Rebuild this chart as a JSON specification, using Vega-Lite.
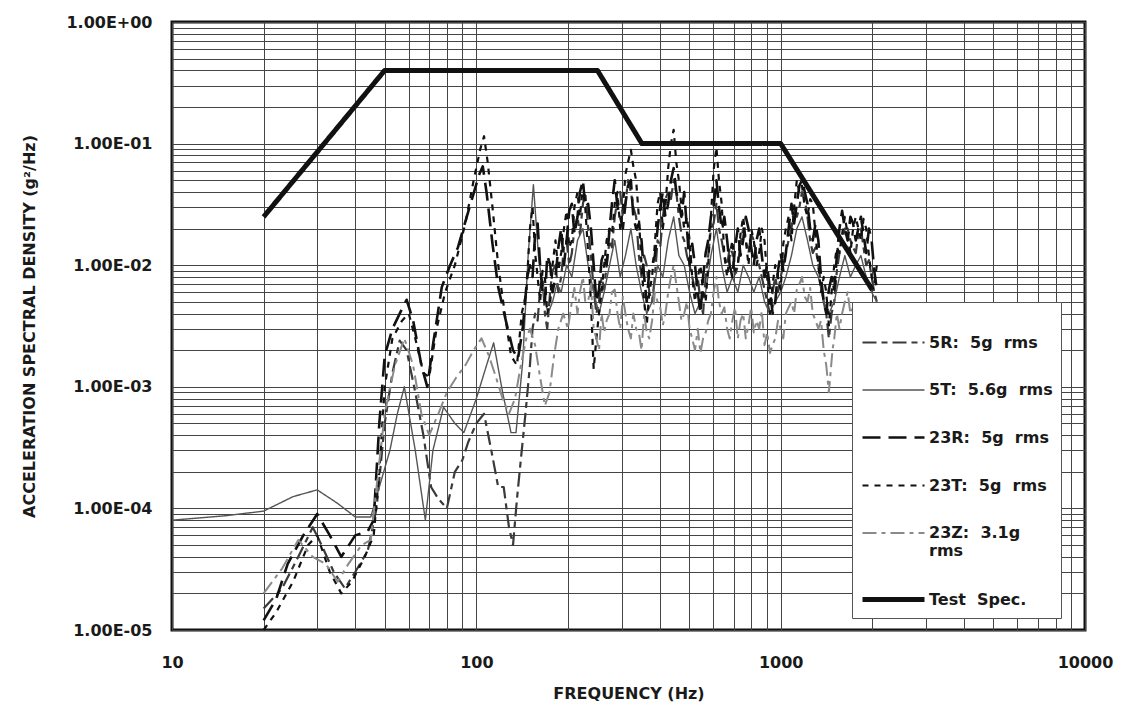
{
  "$schema": "https://vega.github.io/schema/vega-lite/v6.json",
  "autosize": {"type": "none"},
  "padding": {"left": 172, "top": 22, "right": 43, "bottom": 80},
  "width": 913,
  "height": 608,
  "background": "#ffffff",
  "config": {
    "view": {"stroke": "#111111", "strokeWidth": 3},
    "font": "DejaVu Sans"
  },
  "data": {
    "values": [
      {"s":"5R","f":20,"v":1.5e-5},{"s":"5R","f":23,"v":2.2e-5},{"s":"5R","f":26,"v":4e-5},{"s":"5R","f":29,"v":7e-5},{"s":"5R","f":31,"v":5e-5},{"s":"5R","f":34,"v":3e-5},{"s":"5R","f":37,"v":2.2e-5},{"s":"5R","f":40,"v":3e-5},{"s":"5R","f":44,"v":4.5e-5},{"s":"5R","f":47,"v":1e-4},{"s":"5R","f":50,"v":5e-4},{"s":"5R","f":53,"v":1.3e-3},{"s":"5R","f":56,"v":2.4e-3},{"s":"5R","f":59,"v":2e-3},{"s":"5R","f":63,"v":9e-4},{"s":"5R","f":67,"v":4e-4},{"s":"5R","f":71,"v":1.5e-4},{"s":"5R","f":75,"v":1.2e-4},{"s":"5R","f":80,"v":1e-4},{"s":"5R","f":85,"v":2e-4},{"s":"5R","f":90,"v":2.5e-4},{"s":"5R","f":94,"v":3.5e-4},{"s":"5R","f":100,"v":5e-4},{"s":"5R","f":106,"v":6e-4},{"s":"5R","f":112,"v":3e-4},{"s":"5R","f":118,"v":1.5e-4},{"s":"5R","f":123,"v":1.5e-4},{"s":"5R","f":128,"v":7e-5},{"s":"5R","f":132,"v":5e-5},{"s":"5R","f":136,"v":1.2e-4},{"s":"5R","f":140,"v":2.5e-4},{"s":"5R","f":145,"v":6e-4},{"s":"5R","f":150,"v":1.5e-3},{"s":"5R","f":156,"v":4e-3},{"s":"5R","f":162,"v":6.3e-3},{"s":"5R","f":168,"v":4e-3},{"s":"5R","f":175,"v":6.3e-3},{"s":"5R","f":182,"v":1e-2},{"s":"5R","f":190,"v":8e-3},{"s":"5R","f":198,"v":1.6e-2},{"s":"5R","f":206,"v":1.26e-2},{"s":"5R","f":215,"v":2.5e-2},{"s":"5R","f":224,"v":3.2e-2},{"s":"5R","f":233,"v":2e-2},{"s":"5R","f":243,"v":6.3e-3},{"s":"5R","f":253,"v":5e-3},{"s":"5R","f":263,"v":6.3e-3},{"s":"5R","f":274,"v":1.6e-2},{"s":"5R","f":285,"v":2.5e-2},{"s":"5R","f":297,"v":4e-2},{"s":"5R","f":309,"v":3.2e-2},{"s":"5R","f":322,"v":4e-2},{"s":"5R","f":335,"v":2.5e-2},{"s":"5R","f":349,"v":8e-3},{"s":"5R","f":363,"v":1e-2},{"s":"5R","f":378,"v":5e-3},{"s":"5R","f":394,"v":1.6e-2},{"s":"5R","f":410,"v":2.5e-2},{"s":"5R","f":427,"v":4e-2},{"s":"5R","f":445,"v":5e-2},{"s":"5R","f":463,"v":2.5e-2},{"s":"5R","f":482,"v":1.6e-2},{"s":"5R","f":502,"v":1e-2},{"s":"5R","f":523,"v":6.3e-3},{"s":"5R","f":545,"v":5e-3},{"s":"5R","f":567,"v":8e-3},{"s":"5R","f":590,"v":2e-2},{"s":"5R","f":615,"v":3.2e-2},{"s":"5R","f":640,"v":1.6e-2},{"s":"5R","f":667,"v":1e-2},{"s":"5R","f":694,"v":1.26e-2},{"s":"5R","f":723,"v":1e-2},{"s":"5R","f":753,"v":2e-2},{"s":"5R","f":784,"v":1.26e-2},{"s":"5R","f":816,"v":1.6e-2},{"s":"5R","f":850,"v":1e-2},{"s":"5R","f":885,"v":6.3e-3},{"s":"5R","f":922,"v":4e-3},{"s":"5R","f":960,"v":8e-3},{"s":"5R","f":1000,"v":8e-3},{"s":"5R","f":1040,"v":1.26e-2},{"s":"5R","f":1085,"v":2e-2},{"s":"5R","f":1130,"v":2.5e-2},{"s":"5R","f":1175,"v":4e-2},{"s":"5R","f":1225,"v":2.5e-2},{"s":"5R","f":1275,"v":1.26e-2},{"s":"5R","f":1330,"v":1e-2},{"s":"5R","f":1385,"v":5e-3},{"s":"5R","f":1440,"v":2.5e-3},{"s":"5R","f":1500,"v":5e-3},{"s":"5R","f":1560,"v":1.26e-2},{"s":"5R","f":1625,"v":2e-2},{"s":"5R","f":1695,"v":1.6e-2},{"s":"5R","f":1765,"v":1.26e-2},{"s":"5R","f":1835,"v":2e-2},{"s":"5R","f":1910,"v":1e-2},{"s":"5R","f":1990,"v":8e-3},{"s":"5R","f":2070,"v":5e-3},
      {"s":"5R","f":153,"v":3e-3},{"s":"5R","f":159,"v":3.5e-3},{"s":"5R","f":165,"v":8e-3},{"s":"5R","f":171,"v":3e-3},{"s":"5R","f":178,"v":9e-3},{"s":"5R","f":186,"v":6e-3},{"s":"5R","f":194,"v":1.4e-2},{"s":"5R","f":202,"v":1e-2},{"s":"5R","f":210,"v":2e-2},{"s":"5R","f":219,"v":1.8e-2},{"s":"5R","f":228,"v":4e-2},{"s":"5R","f":238,"v":1.2e-2},{"s":"5R","f":248,"v":4e-3},{"s":"5R","f":258,"v":8e-3},{"s":"5R","f":268,"v":1e-2},{"s":"5R","f":279,"v":1.4e-2},{"s":"5R","f":291,"v":3.5e-2},{"s":"5R","f":303,"v":2.5e-2},{"s":"5R","f":315,"v":5e-2},{"s":"5R","f":328,"v":3e-2},{"s":"5R","f":342,"v":1.2e-2},{"s":"5R","f":356,"v":1.2e-2},{"s":"5R","f":370,"v":6e-3},{"s":"5R","f":386,"v":8e-3},{"s":"5R","f":402,"v":1.4e-2},{"s":"5R","f":418,"v":3.5e-2},{"s":"5R","f":436,"v":3.5e-2},{"s":"5R","f":454,"v":4e-2},{"s":"5R","f":472,"v":1.8e-2},{"s":"5R","f":492,"v":1.2e-2},{"s":"5R","f":512,"v":8e-3},{"s":"5R","f":534,"v":8e-3},{"s":"5R","f":556,"v":4e-3},{"s":"5R","f":578,"v":1.2e-2},{"s":"5R","f":602,"v":2.2e-2},{"s":"5R","f":627,"v":2e-2},{"s":"5R","f":653,"v":1.2e-2},{"s":"5R","f":680,"v":1.4e-2},{"s":"5R","f":708,"v":8e-3},{"s":"5R","f":738,"v":1.5e-2},{"s":"5R","f":768,"v":1.6e-2},{"s":"5R","f":800,"v":1.8e-2},{"s":"5R","f":833,"v":1.2e-2},{"s":"5R","f":867,"v":8e-3},{"s":"5R","f":903,"v":5e-3},{"s":"5R","f":941,"v":6e-3},{"s":"5R","f":980,"v":6e-3},{"s":"5R","f":1020,"v":1e-2},{"s":"5R","f":1062,"v":1.6e-2},{"s":"5R","f":1107,"v":3e-2},{"s":"5R","f":1152,"v":3e-2},{"s":"5R","f":1200,"v":3.5e-2},{"s":"5R","f":1250,"v":1.6e-2},{"s":"5R","f":1302,"v":1.4e-2},{"s":"5R","f":1357,"v":7e-3},{"s":"5R","f":1412,"v":4e-3},{"s":"5R","f":1470,"v":4e-3},{"s":"5R","f":1530,"v":9e-3},{"s":"5R","f":1592,"v":1.6e-2},{"s":"5R","f":1660,"v":2e-2},{"s":"5R","f":1730,"v":1.4e-2},{"s":"5R","f":1800,"v":1.8e-2},{"s":"5R","f":1872,"v":1.4e-2},{"s":"5R","f":1950,"v":1.1e-2},{"s":"5R","f":2030,"v":6e-3},

      {"s":"5T","f":10,"v":8e-5},{"s":"5T","f":15,"v":8.7e-5},{"s":"5T","f":20,"v":9.5e-5},{"s":"5T","f":25,"v":1.25e-4},{"s":"5T","f":30,"v":1.42e-4},{"s":"5T","f":35,"v":1.1e-4},{"s":"5T","f":40,"v":8.5e-5},{"s":"5T","f":45,"v":8.5e-5},{"s":"5T","f":48,"v":1.5e-4},{"s":"5T","f":52,"v":3e-4},{"s":"5T","f":55,"v":6e-4},{"s":"5T","f":58,"v":1e-3},{"s":"5T","f":63,"v":3e-4},{"s":"5T","f":68,"v":8e-5},{"s":"5T","f":72,"v":3e-4},{"s":"5T","f":78,"v":6.8e-4},{"s":"5T","f":85,"v":5e-4},{"s":"5T","f":91,"v":4.2e-4},{"s":"5T","f":100,"v":8e-4},{"s":"5T","f":108,"v":1.5e-3},{"s":"5T","f":114,"v":2.3e-3},{"s":"5T","f":122,"v":9e-4},{"s":"5T","f":130,"v":4.2e-4},{"s":"5T","f":135,"v":4.2e-4},{"s":"5T","f":142,"v":1.6e-3},{"s":"5T","f":148,"v":1.2e-2},{"s":"5T","f":154,"v":4.6e-2},{"s":"5T","f":160,"v":1.2e-2},{"s":"5T","f":166,"v":6e-3},{"s":"5T","f":172,"v":4e-3},{"s":"5T","f":178,"v":5e-3},{"s":"5T","f":184,"v":7e-3},{"s":"5T","f":190,"v":6e-3},{"s":"5T","f":198,"v":1e-2},{"s":"5T","f":206,"v":8e-3},{"s":"5T","f":215,"v":1.6e-2},{"s":"5T","f":224,"v":2e-2},{"s":"5T","f":233,"v":1e-2},{"s":"5T","f":243,"v":6e-3},{"s":"5T","f":253,"v":4e-3},{"s":"5T","f":263,"v":6e-3},{"s":"5T","f":274,"v":1e-2},{"s":"5T","f":285,"v":1.6e-2},{"s":"5T","f":297,"v":8e-3},{"s":"5T","f":309,"v":1.2e-2},{"s":"5T","f":322,"v":2e-2},{"s":"5T","f":335,"v":1e-2},{"s":"5T","f":349,"v":6e-3},{"s":"5T","f":363,"v":4e-3},{"s":"5T","f":378,"v":5e-3},{"s":"5T","f":394,"v":1e-2},{"s":"5T","f":410,"v":8e-3},{"s":"5T","f":427,"v":1.6e-2},{"s":"5T","f":445,"v":2.5e-2},{"s":"5T","f":463,"v":1.2e-2},{"s":"5T","f":482,"v":1e-2},{"s":"5T","f":502,"v":6e-3},{"s":"5T","f":523,"v":4e-3},{"s":"5T","f":545,"v":5e-3},{"s":"5T","f":567,"v":6e-3},{"s":"5T","f":590,"v":1.2e-2},{"s":"5T","f":615,"v":2e-2},{"s":"5T","f":640,"v":1e-2},{"s":"5T","f":667,"v":6e-3},{"s":"5T","f":694,"v":8e-3},{"s":"5T","f":723,"v":6e-3},{"s":"5T","f":753,"v":1e-2},{"s":"5T","f":784,"v":8e-3},{"s":"5T","f":816,"v":6e-3},{"s":"5T","f":850,"v":8e-3},{"s":"5T","f":885,"v":5e-3},{"s":"5T","f":922,"v":4e-3},{"s":"5T","f":960,"v":5e-3},{"s":"5T","f":1000,"v":6e-3},{"s":"5T","f":1040,"v":8e-3},{"s":"5T","f":1085,"v":1.2e-2},{"s":"5T","f":1130,"v":2e-2},{"s":"5T","f":1175,"v":2.5e-2},{"s":"5T","f":1225,"v":1.6e-2},{"s":"5T","f":1275,"v":1e-2},{"s":"5T","f":1330,"v":8e-3},{"s":"5T","f":1385,"v":5e-3},{"s":"5T","f":1440,"v":4e-3},{"s":"5T","f":1500,"v":5e-3},{"s":"5T","f":1560,"v":8e-3},{"s":"5T","f":1625,"v":1.2e-2},{"s":"5T","f":1695,"v":8e-3},{"s":"5T","f":1765,"v":1e-2},{"s":"5T","f":1835,"v":1.2e-2},{"s":"5T","f":1910,"v":8e-3},{"s":"5T","f":1990,"v":6e-3},{"s":"5T","f":2070,"v":5e-3},

      {"s":"23R","f":20,"v":1.2e-5},{"s":"23R","f":22,"v":1.8e-5},{"s":"23R","f":24,"v":3.5e-5},{"s":"23R","f":27,"v":6e-5},{"s":"23R","f":30,"v":9e-5},{"s":"23R","f":33,"v":6e-5},{"s":"23R","f":36,"v":4e-5},{"s":"23R","f":40,"v":6e-5},{"s":"23R","f":44,"v":6.5e-5},{"s":"23R","f":46,"v":8e-5},{"s":"23R","f":48,"v":5e-4},{"s":"23R","f":50,"v":1.8e-3},{"s":"23R","f":53,"v":3e-3},{"s":"23R","f":56,"v":4e-3},{"s":"23R","f":59,"v":5.2e-3},{"s":"23R","f":62,"v":3.5e-3},{"s":"23R","f":66,"v":1.5e-3},{"s":"23R","f":69,"v":1e-3},{"s":"23R","f":72,"v":2.2e-3},{"s":"23R","f":77,"v":6.6e-3},{"s":"23R","f":82,"v":1e-2},{"s":"23R","f":87,"v":1.4e-2},{"s":"23R","f":93,"v":2.5e-2},{"s":"23R","f":98,"v":3.9e-2},{"s":"23R","f":102,"v":5.5e-2},{"s":"23R","f":105,"v":6.5e-2},{"s":"23R","f":108,"v":4e-2},{"s":"23R","f":113,"v":1.5e-2},{"s":"23R","f":118,"v":6.6e-3},{"s":"23R","f":125,"v":3.5e-3},{"s":"23R","f":132,"v":2e-3},{"s":"23R","f":137,"v":1.7e-3},{"s":"23R","f":142,"v":3e-3},{"s":"23R","f":147,"v":8e-3},{"s":"23R","f":150,"v":1e-2},{"s":"23R","f":156,"v":1.8e-2},{"s":"23R","f":162,"v":1e-2},{"s":"23R","f":168,"v":5e-3},{"s":"23R","f":175,"v":1e-2},{"s":"23R","f":182,"v":8e-3},{"s":"23R","f":190,"v":2e-2},{"s":"23R","f":198,"v":1.6e-2},{"s":"23R","f":206,"v":3.2e-2},{"s":"23R","f":215,"v":2.5e-2},{"s":"23R","f":224,"v":5e-2},{"s":"23R","f":233,"v":3.2e-2},{"s":"23R","f":243,"v":1e-2},{"s":"23R","f":253,"v":6.3e-3},{"s":"23R","f":263,"v":1.26e-2},{"s":"23R","f":274,"v":2e-2},{"s":"23R","f":285,"v":5e-2},{"s":"23R","f":297,"v":2.5e-2},{"s":"23R","f":309,"v":3.2e-2},{"s":"23R","f":322,"v":5e-2},{"s":"23R","f":335,"v":2e-2},{"s":"23R","f":349,"v":1.6e-2},{"s":"23R","f":363,"v":5e-3},{"s":"23R","f":378,"v":1e-2},{"s":"23R","f":394,"v":2e-2},{"s":"23R","f":410,"v":4e-2},{"s":"23R","f":427,"v":3.2e-2},{"s":"23R","f":445,"v":6.3e-2},{"s":"23R","f":463,"v":3.2e-2},{"s":"23R","f":482,"v":4e-2},{"s":"23R","f":502,"v":1e-2},{"s":"23R","f":523,"v":1e-2},{"s":"23R","f":545,"v":4e-3},{"s":"23R","f":567,"v":1.26e-2},{"s":"23R","f":590,"v":2.5e-2},{"s":"23R","f":615,"v":5e-2},{"s":"23R","f":640,"v":2e-2},{"s":"23R","f":667,"v":1.6e-2},{"s":"23R","f":694,"v":8e-3},{"s":"23R","f":723,"v":2e-2},{"s":"23R","f":753,"v":1.6e-2},{"s":"23R","f":784,"v":2e-2},{"s":"23R","f":816,"v":1e-2},{"s":"23R","f":850,"v":2e-2},{"s":"23R","f":885,"v":8e-3},{"s":"23R","f":922,"v":6.3e-3},{"s":"23R","f":960,"v":5e-3},{"s":"23R","f":1000,"v":1.26e-2},{"s":"23R","f":1040,"v":1.26e-2},{"s":"23R","f":1085,"v":3.2e-2},{"s":"23R","f":1130,"v":3.2e-2},{"s":"23R","f":1175,"v":5e-2},{"s":"23R","f":1225,"v":3.2e-2},{"s":"23R","f":1275,"v":1.6e-2},{"s":"23R","f":1330,"v":1.6e-2},{"s":"23R","f":1385,"v":5e-3},{"s":"23R","f":1440,"v":6.3e-3},{"s":"23R","f":1500,"v":6.3e-3},{"s":"23R","f":1560,"v":2e-2},{"s":"23R","f":1625,"v":2e-2},{"s":"23R","f":1695,"v":2.5e-2},{"s":"23R","f":1765,"v":1.6e-2},{"s":"23R","f":1835,"v":2.5e-2},{"s":"23R","f":1910,"v":1.26e-2},{"s":"23R","f":1990,"v":1.6e-2},{"s":"23R","f":2070,"v":6.3e-3},
      {"s":"23R","f":153,"v":8e-3},{"s":"23R","f":159,"v":2.2e-2},{"s":"23R","f":165,"v":6e-3},{"s":"23R","f":171,"v":1.2e-2},{"s":"23R","f":178,"v":6e-3},{"s":"23R","f":186,"v":1.4e-2},{"s":"23R","f":194,"v":1e-2},{"s":"23R","f":202,"v":2.8e-2},{"s":"23R","f":210,"v":1.8e-2},{"s":"23R","f":219,"v":4e-2},{"s":"23R","f":228,"v":3e-2},{"s":"23R","f":238,"v":2e-2},{"s":"23R","f":248,"v":5e-3},{"s":"23R","f":258,"v":1.1e-2},{"s":"23R","f":268,"v":1e-2},{"s":"23R","f":279,"v":3.2e-2},{"s":"23R","f":291,"v":3e-2},{"s":"23R","f":303,"v":2e-2},{"s":"23R","f":315,"v":4.5e-2},{"s":"23R","f":328,"v":2.5e-2},{"s":"23R","f":342,"v":2.2e-2},{"s":"23R","f":356,"v":8e-3},{"s":"23R","f":370,"v":9e-3},{"s":"23R","f":386,"v":1.2e-2},{"s":"23R","f":402,"v":3e-2},{"s":"23R","f":418,"v":2.5e-2},{"s":"23R","f":436,"v":5e-2},{"s":"23R","f":454,"v":4e-2},{"s":"23R","f":472,"v":2.5e-2},{"s":"23R","f":492,"v":2e-2},{"s":"23R","f":512,"v":1.5e-2},{"s":"23R","f":534,"v":6e-3},{"s":"23R","f":556,"v":8e-3},{"s":"23R","f":578,"v":1.6e-2},{"s":"23R","f":602,"v":3e-2},{"s":"23R","f":627,"v":3e-2},{"s":"23R","f":653,"v":2.5e-2},{"s":"23R","f":680,"v":1e-2},{"s":"23R","f":708,"v":1.4e-2},{"s":"23R","f":738,"v":1.2e-2},{"s":"23R","f":768,"v":2.5e-2},{"s":"23R","f":800,"v":1.4e-2},{"s":"23R","f":833,"v":1.6e-2},{"s":"23R","f":867,"v":1.2e-2},{"s":"23R","f":903,"v":1e-2},{"s":"23R","f":941,"v":4e-3},{"s":"23R","f":980,"v":9e-3},{"s":"23R","f":1020,"v":9e-3},{"s":"23R","f":1062,"v":2e-2},{"s":"23R","f":1107,"v":2.2e-2},{"s":"23R","f":1152,"v":4.5e-2},{"s":"23R","f":1200,"v":4e-2},{"s":"23R","f":1250,"v":2e-2},{"s":"23R","f":1302,"v":2.2e-2},{"s":"23R","f":1357,"v":8e-3},{"s":"23R","f":1412,"v":4e-3},{"s":"23R","f":1470,"v":8e-3},{"s":"23R","f":1530,"v":1.2e-2},{"s":"23R","f":1592,"v":2.8e-2},{"s":"23R","f":1660,"v":1.6e-2},{"s":"23R","f":1730,"v":2.2e-2},{"s":"23R","f":1800,"v":2e-2},{"s":"23R","f":1872,"v":1.8e-2},{"s":"23R","f":1950,"v":2e-2},{"s":"23R","f":2030,"v":9e-3},

      {"s":"23T","f":20,"v":1e-5},{"s":"23T","f":22,"v":1.4e-5},{"s":"23T","f":25,"v":2.5e-5},{"s":"23T","f":28,"v":5e-5},{"s":"23T","f":30,"v":6e-5},{"s":"23T","f":33,"v":3e-5},{"s":"23T","f":36,"v":2e-5},{"s":"23T","f":39,"v":2.5e-5},{"s":"23T","f":43,"v":4e-5},{"s":"23T","f":46,"v":6e-5},{"s":"23T","f":48,"v":2e-4},{"s":"23T","f":50,"v":1e-3},{"s":"23T","f":53,"v":2.5e-3},{"s":"23T","f":57,"v":3.5e-3},{"s":"23T","f":60,"v":4e-3},{"s":"23T","f":63,"v":2.5e-3},{"s":"23T","f":67,"v":1.3e-3},{"s":"23T","f":70,"v":1.2e-3},{"s":"23T","f":74,"v":3e-3},{"s":"23T","f":79,"v":6e-3},{"s":"23T","f":85,"v":1e-2},{"s":"23T","f":92,"v":2.2e-2},{"s":"23T","f":98,"v":5e-2},{"s":"23T","f":103,"v":9e-2},{"s":"23T","f":106,"v":1.15e-1},{"s":"23T","f":109,"v":7e-2},{"s":"23T","f":113,"v":3e-2},{"s":"23T","f":118,"v":1e-2},{"s":"23T","f":124,"v":4e-3},{"s":"23T","f":130,"v":1.8e-3},{"s":"23T","f":136,"v":1.5e-3},{"s":"23T","f":141,"v":4e-3},{"s":"23T","f":146,"v":6e-3},{"s":"23T","f":150,"v":2e-2},{"s":"23T","f":156,"v":1.26e-2},{"s":"23T","f":162,"v":5e-3},{"s":"23T","f":168,"v":8e-3},{"s":"23T","f":175,"v":5e-3},{"s":"23T","f":182,"v":1.6e-2},{"s":"23T","f":190,"v":1.26e-2},{"s":"23T","f":198,"v":2.8e-2},{"s":"23T","f":206,"v":1.6e-2},{"s":"23T","f":215,"v":4e-2},{"s":"23T","f":224,"v":4.5e-2},{"s":"23T","f":233,"v":1.26e-2},{"s":"23T","f":243,"v":1.4e-3},{"s":"23T","f":253,"v":4e-3},{"s":"23T","f":263,"v":1e-2},{"s":"23T","f":274,"v":2e-2},{"s":"23T","f":285,"v":3.2e-2},{"s":"23T","f":297,"v":2e-2},{"s":"23T","f":309,"v":5.6e-2},{"s":"23T","f":322,"v":8.9e-2},{"s":"23T","f":335,"v":5e-2},{"s":"23T","f":349,"v":1e-2},{"s":"23T","f":363,"v":3.2e-3},{"s":"23T","f":378,"v":8e-3},{"s":"23T","f":394,"v":3.2e-2},{"s":"23T","f":410,"v":2e-2},{"s":"23T","f":427,"v":6.3e-2},{"s":"23T","f":445,"v":1.3e-1},{"s":"23T","f":463,"v":5e-2},{"s":"23T","f":482,"v":2e-2},{"s":"23T","f":502,"v":1.6e-2},{"s":"23T","f":523,"v":5e-3},{"s":"23T","f":545,"v":1e-2},{"s":"23T","f":567,"v":5e-3},{"s":"23T","f":590,"v":2.5e-2},{"s":"23T","f":615,"v":9.3e-2},{"s":"23T","f":640,"v":3.2e-2},{"s":"23T","f":667,"v":8e-3},{"s":"23T","f":694,"v":1.6e-2},{"s":"23T","f":723,"v":1e-2},{"s":"23T","f":753,"v":2.5e-2},{"s":"23T","f":784,"v":1e-2},{"s":"23T","f":816,"v":1.6e-2},{"s":"23T","f":850,"v":1.26e-2},{"s":"23T","f":885,"v":1.6e-2},{"s":"23T","f":922,"v":4e-3},{"s":"23T","f":960,"v":1e-2},{"s":"23T","f":1000,"v":6.3e-3},{"s":"23T","f":1040,"v":2e-2},{"s":"23T","f":1085,"v":1.6e-2},{"s":"23T","f":1130,"v":5e-2},{"s":"23T","f":1175,"v":4.5e-2},{"s":"23T","f":1225,"v":2.5e-2},{"s":"23T","f":1275,"v":3.2e-2},{"s":"23T","f":1330,"v":1e-2},{"s":"23T","f":1385,"v":8e-3},{"s":"23T","f":1440,"v":3.2e-3},{"s":"23T","f":1500,"v":1e-2},{"s":"23T","f":1560,"v":1.26e-2},{"s":"23T","f":1625,"v":2.5e-2},{"s":"23T","f":1695,"v":1.26e-2},{"s":"23T","f":1765,"v":2.5e-2},{"s":"23T","f":1835,"v":1.6e-2},{"s":"23T","f":1910,"v":2e-2},{"s":"23T","f":1990,"v":8e-3},{"s":"23T","f":2070,"v":1e-2},
      {"s":"23T","f":153,"v":3e-2},{"s":"23T","f":159,"v":8e-3},{"s":"23T","f":165,"v":9e-3},{"s":"23T","f":171,"v":4e-3},{"s":"23T","f":178,"v":1e-2},{"s":"23T","f":186,"v":9e-3},{"s":"23T","f":194,"v":2e-2},{"s":"23T","f":202,"v":1.4e-2},{"s":"23T","f":210,"v":3e-2},{"s":"23T","f":219,"v":2.5e-2},{"s":"23T","f":228,"v":3e-2},{"s":"23T","f":238,"v":5e-3},{"s":"23T","f":248,"v":2.5e-3},{"s":"23T","f":258,"v":6e-3},{"s":"23T","f":268,"v":1.6e-2},{"s":"23T","f":279,"v":1.8e-2},{"s":"23T","f":291,"v":4e-2},{"s":"23T","f":303,"v":3e-2},{"s":"23T","f":315,"v":7e-2},{"s":"23T","f":328,"v":6.5e-2},{"s":"23T","f":342,"v":2.5e-2},{"s":"23T","f":356,"v":5e-3},{"s":"23T","f":370,"v":6e-3},{"s":"23T","f":386,"v":1.5e-2},{"s":"23T","f":402,"v":4e-2},{"s":"23T","f":418,"v":3e-2},{"s":"23T","f":436,"v":1e-1},{"s":"23T","f":454,"v":7e-2},{"s":"23T","f":472,"v":3e-2},{"s":"23T","f":492,"v":2.5e-2},{"s":"23T","f":512,"v":8e-3},{"s":"23T","f":534,"v":8e-3},{"s":"23T","f":556,"v":6e-3},{"s":"23T","f":578,"v":1e-2},{"s":"23T","f":602,"v":6e-2},{"s":"23T","f":627,"v":5e-2},{"s":"23T","f":653,"v":1.2e-2},{"s":"23T","f":680,"v":1.2e-2},{"s":"23T","f":708,"v":9e-3},{"s":"23T","f":738,"v":1.8e-2},{"s":"23T","f":768,"v":1.6e-2},{"s":"23T","f":800,"v":2e-2},{"s":"23T","f":833,"v":1e-2},{"s":"23T","f":867,"v":2e-2},{"s":"23T","f":903,"v":8e-3},{"s":"23T","f":941,"v":7e-3},{"s":"23T","f":980,"v":8e-3},{"s":"23T","f":1020,"v":1.5e-2},{"s":"23T","f":1062,"v":2.5e-2},{"s":"23T","f":1107,"v":3e-2},{"s":"23T","f":1152,"v":4e-2},{"s":"23T","f":1200,"v":3e-2},{"s":"23T","f":1250,"v":3.5e-2},{"s":"23T","f":1302,"v":1.8e-2},{"s":"23T","f":1357,"v":6e-3},{"s":"23T","f":1412,"v":6e-3},{"s":"23T","f":1470,"v":6e-3},{"s":"23T","f":1530,"v":1.4e-2},{"s":"23T","f":1592,"v":1.8e-2},{"s":"23T","f":1660,"v":1.8e-2},{"s":"23T","f":1730,"v":2e-2},{"s":"23T","f":1800,"v":2e-2},{"s":"23T","f":1872,"v":2.4e-2},{"s":"23T","f":1950,"v":1.2e-2},{"s":"23T","f":2030,"v":7e-3},

      {"s":"23Z","f":20,"v":2e-5},{"s":"23Z","f":23,"v":3.2e-5},{"s":"23Z","f":26,"v":5.5e-5},{"s":"23Z","f":29,"v":4e-5},{"s":"23Z","f":32,"v":3.5e-5},{"s":"23Z","f":35,"v":2.5e-5},{"s":"23Z","f":38,"v":3.5e-5},{"s":"23Z","f":42,"v":5e-5},{"s":"23Z","f":45,"v":5.5e-5},{"s":"23Z","f":47,"v":1.5e-4},{"s":"23Z","f":50,"v":6e-4},{"s":"23Z","f":54,"v":1.5e-3},{"s":"23Z","f":58,"v":2.5e-3},{"s":"23Z","f":62,"v":1.5e-3},{"s":"23Z","f":66,"v":6e-4},{"s":"23Z","f":70,"v":4e-4},{"s":"23Z","f":75,"v":6e-4},{"s":"23Z","f":80,"v":9e-4},{"s":"23Z","f":86,"v":1.2e-3},{"s":"23Z","f":92,"v":1.5e-3},{"s":"23Z","f":98,"v":2e-3},{"s":"23Z","f":104,"v":2.5e-3},{"s":"23Z","f":110,"v":1.8e-3},{"s":"23Z","f":116,"v":1.2e-3},{"s":"23Z","f":122,"v":8e-4},{"s":"23Z","f":128,"v":6e-4},{"s":"23Z","f":134,"v":8e-4},{"s":"23Z","f":140,"v":1.5e-3},{"s":"23Z","f":146,"v":2.5e-3},{"s":"23Z","f":150,"v":3e-3},{"s":"23Z","f":156,"v":2.2e-3},{"s":"23Z","f":162,"v":1.2e-3},{"s":"23Z","f":168,"v":7e-4},{"s":"23Z","f":174,"v":9e-4},{"s":"23Z","f":180,"v":1.8e-3},{"s":"23Z","f":186,"v":3e-3},{"s":"23Z","f":193,"v":4e-3},{"s":"23Z","f":200,"v":3e-3},{"s":"23Z","f":206,"v":5e-3},{"s":"23Z","f":215,"v":4e-3},{"s":"23Z","f":224,"v":8e-3},{"s":"23Z","f":233,"v":5e-3},{"s":"23Z","f":243,"v":3e-3},{"s":"23Z","f":253,"v":2e-3},{"s":"23Z","f":263,"v":2.8e-3},{"s":"23Z","f":274,"v":4e-3},{"s":"23Z","f":285,"v":6.3e-3},{"s":"23Z","f":297,"v":3e-3},{"s":"23Z","f":309,"v":4e-3},{"s":"23Z","f":322,"v":2.5e-3},{"s":"23Z","f":335,"v":3e-3},{"s":"23Z","f":349,"v":2e-3},{"s":"23Z","f":363,"v":2.8e-3},{"s":"23Z","f":378,"v":3.5e-3},{"s":"23Z","f":394,"v":5e-3},{"s":"23Z","f":410,"v":3.2e-3},{"s":"23Z","f":427,"v":6e-3},{"s":"23Z","f":445,"v":1e-2},{"s":"23Z","f":463,"v":5e-3},{"s":"23Z","f":482,"v":4e-3},{"s":"23Z","f":502,"v":3e-3},{"s":"23Z","f":523,"v":2e-3},{"s":"23Z","f":545,"v":1.9e-3},{"s":"23Z","f":567,"v":2.8e-3},{"s":"23Z","f":590,"v":4e-3},{"s":"23Z","f":615,"v":8e-3},{"s":"23Z","f":640,"v":4e-3},{"s":"23Z","f":667,"v":3e-3},{"s":"23Z","f":694,"v":3.5e-3},{"s":"23Z","f":723,"v":2.5e-3},{"s":"23Z","f":753,"v":4e-3},{"s":"23Z","f":784,"v":3.2e-3},{"s":"23Z","f":816,"v":2.8e-3},{"s":"23Z","f":850,"v":3e-3},{"s":"23Z","f":885,"v":2.2e-3},{"s":"23Z","f":922,"v":1.9e-3},{"s":"23Z","f":960,"v":2.5e-3},{"s":"23Z","f":1000,"v":3e-3},{"s":"23Z","f":1040,"v":4e-3},{"s":"23Z","f":1085,"v":5e-3},{"s":"23Z","f":1130,"v":6.3e-3},{"s":"23Z","f":1175,"v":8e-3},{"s":"23Z","f":1225,"v":5e-3},{"s":"23Z","f":1275,"v":4e-3},{"s":"23Z","f":1330,"v":3e-3},{"s":"23Z","f":1385,"v":2e-3},{"s":"23Z","f":1440,"v":9e-4},{"s":"23Z","f":1480,"v":2e-3},{"s":"23Z","f":1500,"v":2.5e-3},{"s":"23Z","f":1560,"v":3e-3},{"s":"23Z","f":1625,"v":5e-3},{"s":"23Z","f":1695,"v":4e-3},{"s":"23Z","f":1765,"v":3.5e-3},{"s":"23Z","f":1835,"v":3e-3},{"s":"23Z","f":1910,"v":3.2e-3},{"s":"23Z","f":1990,"v":3e-3},{"s":"23Z","f":2070,"v":3.5e-3},
      {"s":"23Z","f":210,"v":6.5e-3},{"s":"23Z","f":219,"v":6e-3},{"s":"23Z","f":228,"v":5e-3},{"s":"23Z","f":238,"v":7e-3},{"s":"23Z","f":248,"v":2.5e-3},{"s":"23Z","f":258,"v":4e-3},{"s":"23Z","f":268,"v":3.5e-3},{"s":"23Z","f":279,"v":6e-3},{"s":"23Z","f":291,"v":4e-3},{"s":"23Z","f":303,"v":5.5e-3},{"s":"23Z","f":315,"v":3e-3},{"s":"23Z","f":328,"v":4e-3},{"s":"23Z","f":342,"v":2.8e-3},{"s":"23Z","f":356,"v":4e-3},{"s":"23Z","f":370,"v":2.5e-3},{"s":"23Z","f":386,"v":6e-3},{"s":"23Z","f":402,"v":4.5e-3},{"s":"23Z","f":418,"v":4e-3},{"s":"23Z","f":436,"v":8e-3},{"s":"23Z","f":454,"v":7e-3},{"s":"23Z","f":472,"v":3.5e-3},{"s":"23Z","f":492,"v":5e-3},{"s":"23Z","f":512,"v":2.5e-3},{"s":"23Z","f":534,"v":3e-3},{"s":"23Z","f":556,"v":2.5e-3},{"s":"23Z","f":578,"v":3.5e-3},{"s":"23Z","f":602,"v":6e-3},{"s":"23Z","f":627,"v":5e-3},{"s":"23Z","f":653,"v":4.5e-3},{"s":"23Z","f":680,"v":2.5e-3},{"s":"23Z","f":708,"v":4.5e-3},{"s":"23Z","f":738,"v":3.5e-3},{"s":"23Z","f":768,"v":2.5e-3},{"s":"23Z","f":800,"v":4.5e-3},{"s":"23Z","f":833,"v":3.5e-3},{"s":"23Z","f":867,"v":4.2e-3},{"s":"23Z","f":903,"v":2.8e-3},{"s":"23Z","f":941,"v":2.2e-3},{"s":"23Z","f":980,"v":3.5e-3},{"s":"23Z","f":1020,"v":2.5e-3},{"s":"23Z","f":1062,"v":4.5e-3},{"s":"23Z","f":1107,"v":4e-3},{"s":"23Z","f":1152,"v":7e-3},{"s":"23Z","f":1200,"v":5.5e-3},{"s":"23Z","f":1250,"v":6.5e-3},{"s":"23Z","f":1302,"v":3.5e-3},{"s":"23Z","f":1357,"v":3.5e-3},{"s":"23Z","f":1412,"v":1.5e-3},{"s":"23Z","f":1530,"v":4e-3},{"s":"23Z","f":1592,"v":4e-3},{"s":"23Z","f":1660,"v":6e-3},{"s":"23Z","f":1730,"v":4.5e-3},{"s":"23Z","f":1800,"v":4e-3},{"s":"23Z","f":1872,"v":4.5e-3},{"s":"23Z","f":1950,"v":4e-3},{"s":"23Z","f":2030,"v":4e-3},

      {"s":"Test Spec.","f":20,"v":0.025},{"s":"Test Spec.","f":50,"v":0.4},{"s":"Test Spec.","f":250,"v":0.4},{"s":"Test Spec.","f":350,"v":0.1},{"s":"Test Spec.","f":1000,"v":0.1},{"s":"Test Spec.","f":2000,"v":0.00625}
    ]
  },
  "mark": {"type": "line", "strokeJoin": "round"},
  "encoding": {
    "x": {
      "field": "f", "type": "quantitative",
      "scale": {"type": "log", "domain": [10, 10000]},
      "title": "FREQUENCY (Hz)",
      "axis": {
        "values": [10,20,30,40,50,60,70,80,90,100,200,300,400,500,600,700,800,900,1000,2000,3000,4000,5000,6000,7000,8000,9000,10000],
        "format": "d",
        "labelExpr": "(datum.value == 10 || datum.value == 100 || datum.value == 1000 || datum.value == 10000) ? datum.label : ''",
        "labelOverlap": false, "labelFlush": false, "labelBound": false,
        "ticks": false, "domain": false,
        "grid": true, "gridColor": "#444444", "gridWidth": 1, "gridOpacity": 1,
        "labelFont": "DejaVu Sans", "labelFontSize": 16, "labelFontWeight": "bold", "labelColor": "#1a1a1a",
        "labelPadding": 24,
        "titleFont": "DejaVu Sans", "titleFontSize": 16, "titleFontWeight": "bold", "titleColor": "#1a1a1a",
        "titlePadding": 15
      }
    },
    "y": {
      "field": "v", "type": "quantitative",
      "scale": {"type": "log", "domain": [0.00001, 1]},
      "title": "ACCELERATION SPECTRAL DENSITY (g²/Hz)",
      "axis": {
        "values": [0.00001,0.00002,0.00003,0.00004,0.00005,0.00006,0.00007,0.00008,0.00009,0.0001,0.0002,0.0003,0.0004,0.0005,0.0006,0.0007,0.0008,0.0009,0.001,0.002,0.003,0.004,0.005,0.006,0.007,0.008,0.009,0.01,0.02,0.03,0.04,0.05,0.06,0.07,0.08,0.09,0.1,0.2,0.3,0.4,0.5,0.6,0.7,0.8,0.9,1],
        "labelExpr": "datum.value == 1 ? '1.00E+00' : datum.value == 0.1 ? '1.00E-01' : datum.value == 0.01 ? '1.00E-02' : datum.value == 0.001 ? '1.00E-03' : datum.value == 0.0001 ? '1.00E-04' : datum.value == 0.00001 ? '1.00E-05' : ''",
        "labelOverlap": false, "labelFlush": false, "labelBound": false,
        "ticks": false, "domain": false,
        "grid": true, "gridColor": "#444444", "gridWidth": 1, "gridOpacity": 1,
        "labelFont": "DejaVu Sans", "labelFontSize": 16, "labelFontWeight": "bold", "labelColor": "#1a1a1a",
        "labelPadding": 20,
        "titleFont": "DejaVu Sans", "titleFontSize": 16, "titleFontWeight": "bold", "titleColor": "#1a1a1a",
        "titlePadding": 28
      }
    },
    "color": {
      "field": "s", "type": "nominal",
      "scale": {"domain": ["5R","5T","23R","23T","23Z","Test Spec."], "range": ["#3a3a3a","#555555","#111111","#111111","#8a8a8a","#111111"]},
      "legend": {
        "title": null, "orient": "none", "legendX": 680, "legendY": 280,
        "symbolType": "stroke", "symbolSize": 3844,
        "labelExpr": "datum.value == '5R' ? '5R: \u00a05g \u00a0rms' : datum.value == '5T' ? '5T: \u00a05.6g \u00a0rms' : datum.value == '23R' ? '23R: \u00a05g \u00a0rms' : datum.value == '23T' ? '23T: \u00a05g \u00a0rms' : datum.value == '23Z' ? ['23Z: \u00a03.1g', 'rms'] : 'Test \u00a0Spec.'",
        "labelFont": "DejaVu Sans", "labelFontSize": 16, "labelFontWeight": "bold", "labelColor": "#1a1a1a", "labelLimit": 300,
        "labelOffset": 2, "rowPadding": 7,
        "padding": 8, "strokeColor": "#555555", "fillColor": "#ffffff"
      }
    },
    "strokeDash": {
      "field": "s", "type": "nominal",
      "scale": {"domain": ["5R","5T","23R","23T","23Z","Test Spec."], "range": [[14,5,6,5],[1,0],[18,8],[6,6],[14,5,4,5],[1,0]]},
      "legend": {
        "title": null, "orient": "none", "legendX": 680, "legendY": 280,
        "symbolType": "stroke", "symbolSize": 3844,
        "labelExpr": "datum.value == '5R' ? '5R: \u00a05g \u00a0rms' : datum.value == '5T' ? '5T: \u00a05.6g \u00a0rms' : datum.value == '23R' ? '23R: \u00a05g \u00a0rms' : datum.value == '23T' ? '23T: \u00a05g \u00a0rms' : datum.value == '23Z' ? ['23Z: \u00a03.1g', 'rms'] : 'Test \u00a0Spec.'",
        "labelFont": "DejaVu Sans", "labelFontSize": 16, "labelFontWeight": "bold", "labelColor": "#1a1a1a", "labelLimit": 300,
        "labelOffset": 2, "rowPadding": 7,
        "padding": 8, "strokeColor": "#555555", "fillColor": "#ffffff"
      }
    },
    "strokeWidth": {
      "field": "s", "type": "nominal",
      "scale": {"type": "ordinal", "domain": ["5R","5T","23R","23T","23Z","Test Spec."], "range": [2.2,1.4,2.6,2.2,2,5]},
      "legend": {
        "title": null, "orient": "none", "legendX": 680, "legendY": 280,
        "symbolType": "stroke", "symbolSize": 3844,
        "labelExpr": "datum.value == '5R' ? '5R: \u00a05g \u00a0rms' : datum.value == '5T' ? '5T: \u00a05.6g \u00a0rms' : datum.value == '23R' ? '23R: \u00a05g \u00a0rms' : datum.value == '23T' ? '23T: \u00a05g \u00a0rms' : datum.value == '23Z' ? ['23Z: \u00a03.1g', 'rms'] : 'Test \u00a0Spec.'",
        "labelFont": "DejaVu Sans", "labelFontSize": 16, "labelFontWeight": "bold", "labelColor": "#1a1a1a", "labelLimit": 300,
        "labelOffset": 2, "rowPadding": 7,
        "padding": 8, "strokeColor": "#555555", "fillColor": "#ffffff"
      }
    }
  }
}
